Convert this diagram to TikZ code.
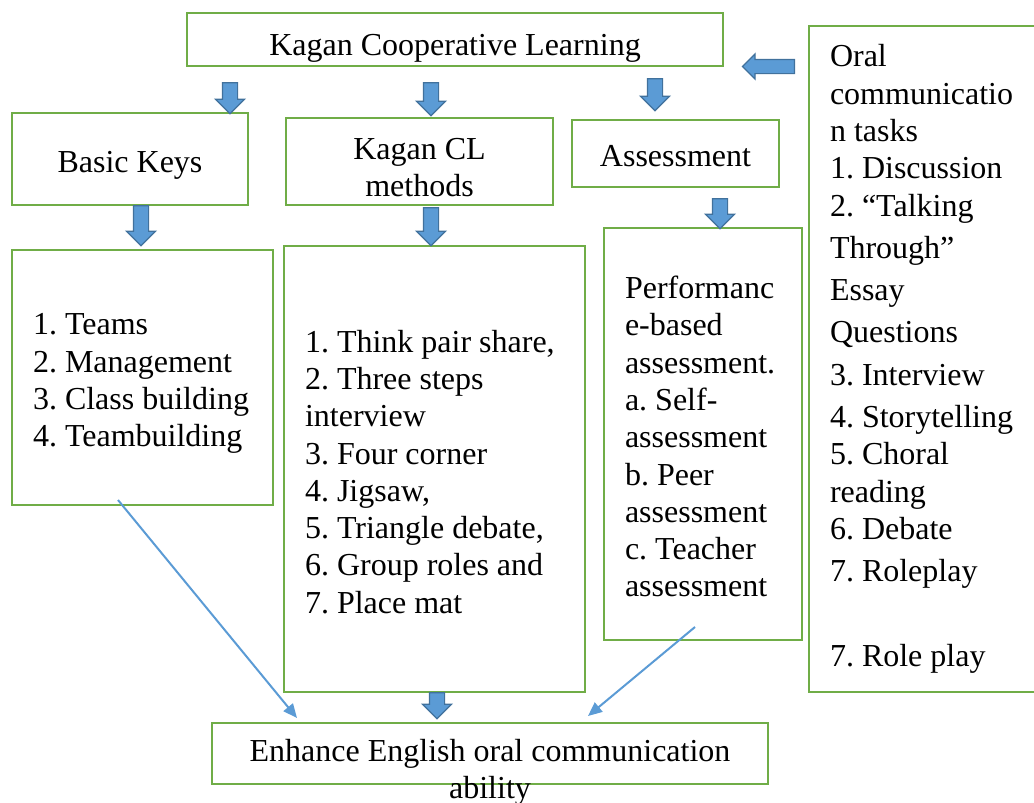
\documentclass[tikz,border=0pt]{standalone}
\usepackage{fontspec}
\setmainfont{Liberation Serif}
\usetikzlibrary{shapes.arrows,arrows.meta}
\definecolor{boxgreen}{HTML}{70AD47}
\definecolor{arrowfill}{HTML}{5B9BD5}
\definecolor{arrowedge}{HTML}{41719C}
\tikzset{
  box/.style={draw=boxgreen, line width=2.5pt, inner sep=0pt,
    font=\fontsize{32}{37.3}\selectfont\frenchspacing},
  listbox/.style={box, align=flush left, inner xsep=21pt},
  blockarrow/.style={single arrow, fill=arrowfill, draw=arrowedge, line width=1.2pt,
    single arrow head extend=7pt, inner xsep=0pt, inner ysep=7pt},
  thinarrow/.style={draw=arrowfill, line width=2pt, -{Triangle[length=14pt,width=12pt]}}
}
\begin{document}
\begin{tikzpicture}[x=1pt,y=-1pt]
  \useasboundingbox (0,0) rectangle (1034,803);
  % top row
  \node[box, text height=38pt, minimum width=536pt, minimum height=53pt] (kcl) at (455,39.5) {Kagan Cooperative Learning};
  \node[box, text height=34pt, minimum width=236pt, minimum height=92pt] (basic) at (130,159) {Basic Keys};
  \node[box, text height=70pt, align=center, minimum width=267pt, minimum height=87pt] (methods) at (419.5,161.5) {Kagan CL\\methods};
  \node[box, text height=26pt, minimum width=207pt, minimum height=67pt] (assess) at (675.5,153.5) {Assessment};
  % lists
  \node[listbox, text width=219pt, text height=33.5pt, minimum height=255pt] (keys) at (142.5,377.5)
    {1. Teams\\2. Management\\3. Class building\\4. Teambuilding};
  \node[listbox, text width=259pt, text height=27.9pt, minimum height=446pt] (steps) at (434.5,469)
    {1. Think pair share,\\2. Three steps\\interview\\3. Four corner\\4. Jigsaw,\\5. Triangle debate,\\6. Group roles and\\7. Place mat};
  \node[listbox, text width=156pt, text height=27.9pt, minimum height=412pt] (perf) at (703,434)
    {Performanc\\e-based\\assessment.\\a. Self-\\assessment\\b. Peer\\assessment\\c. Teacher\\assessment};
  \node[listbox, text width=189pt, minimum height=666pt] (oral) at (924.5,359)
    {Oral\\communicatio\\n tasks\\1. Discussion\\2. “Talking\\[5pt]Through”\\[5pt]Essay\\[5pt]Questions\\[5pt]3. Interview\\[5pt]4. Storytelling\\5. Choral\\reading\\6. Debate\\[5pt]7. Roleplay\\[5pt]\mbox{}\\[5pt]7. Role play};
  % goal
  \node[box, minimum width=556pt, minimum height=61pt] (enhance) at (490,753.5) {};
  \node[font=\fontsize{32}{37.3}\selectfont, align=center, inner sep=0pt] (enhancetxt) at (490,772)
    {Enhance English oral communication\\ability};
  % block arrows
  \node[blockarrow, rotate=-90, minimum height=31pt] (a1) at (230,94.5) {};
  \node[blockarrow, rotate=-90, minimum height=33pt] (a2) at (431,95.5) {};
  \node[blockarrow, rotate=-90, minimum height=32pt] (a3) at (655,91) {};
  \node[blockarrow, rotate=-90, minimum height=40pt] (a4) at (141,222) {};
  \node[blockarrow, rotate=-90, minimum height=38pt] (a5) at (431,223) {};
  \node[blockarrow, rotate=-90, minimum height=30pt] (a6) at (720,210) {};
  \node[blockarrow, rotate=-90, minimum height=26pt] (a7) at (437,702) {};
  \node[blockarrow, rotate=180, minimum height=52pt, inner ysep=6.5pt, single arrow head extend=5.5pt] (a8) at (772,66.5) {};
  % thin arrows
  \coordinate (k1) at (118,500);
  \coordinate (k2) at (297,718);
  \coordinate (p1) at (695,627);
  \coordinate (p2) at (588,716);
  \draw[thinarrow] (k1) -- (k2);
  \draw[thinarrow] (p1) -- (p2);
\end{tikzpicture}
\end{document}
